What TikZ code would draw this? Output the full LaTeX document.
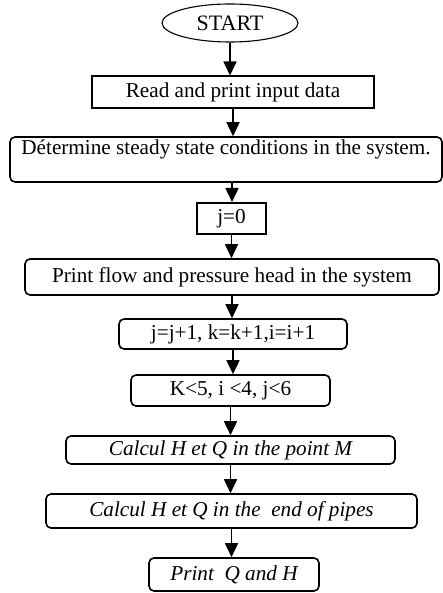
\documentclass[tikz,border=0pt]{standalone}
\usepackage{fontspec}
\setmainfont{Liberation Serif}
\usetikzlibrary{arrows.meta,shapes.geometric}
\begin{document}
\begin{tikzpicture}[x=1pt,y=-1pt,
  txt/.style={font=\fontsize{21.2}{25}\selectfont},
  box/.style={draw, line width=2pt, inner sep=0pt, txt},
  rbox/.style={draw, line width=1.6pt, inner sep=0pt, rounded corners=5pt, txt},
  arr/.style={line width=1.6pt, -{Triangle[width=13pt,length=14pt]}},
]
\useasboundingbox (0,0) rectangle (443,593);
\node[ellipse, draw, line width=1.1pt, minimum width=136pt, minimum height=38pt, inner sep=0pt, font=\fontsize{22}{26}\selectfont] (start) at (230,23) {START};
\node[box, minimum width=282pt, minimum height=32pt] (read) at (233,92.5) {Read and print input data};
\node[rbox, minimum width=432pt, text height=18pt, text depth=27pt] (det) at (226,159.5) {Détermine steady state conditions in the system.};
\node[box, minimum width=69pt, minimum height=31pt] (j0) at (231.5,218.5) {j=0};
\node[rbox, minimum width=414pt, minimum height=36pt] (pf) at (232,277) {Print flow and pressure head in the system};
\node[rbox, minimum width=228pt, minimum height=30pt] (jj) at (233,334) {j=j+1, k=k+1,i=i+1};
\node[rbox, minimum width=199pt, minimum height=31pt] (kk) at (230.5,390.5) {K<5, i <4, j<6};
\node[rbox, minimum width=329pt, minimum height=28pt] (cm) at (230.5,450) {\itshape Calcul H et Q in the point M};
\node[rbox, minimum width=371pt, minimum height=34pt] (ce) at (231.5,511) {\itshape Calcul H et Q in the\ \ end of pipes};
\node[rbox, minimum width=170pt, minimum height=33pt] (pq) at (234,574.5) {\itshape Print\ \ Q and H};
\draw[arr] (start.south) -- (start.south |- read.north);
\draw[arr] (read.south) -- (read.south |- det.north);
\draw[arr] ([xshift=6pt]det.south) -- ([xshift=6pt]det.south |- j0.north);
\draw[arr] (j0.south) -- (j0.south |- pf.north);
\draw[arr] (pf.south) -- (pf.south |- jj.north);
\draw[arr] (jj.south) -- (jj.south |- kk.north);
\draw[arr] (kk.south) -- (kk.south |- cm.north);
\draw[arr] (cm.south) -- (cm.south |- ce.north);
\draw[arr] (ce.south) -- (ce.south |- pq.north);
\end{tikzpicture}
\end{document}
